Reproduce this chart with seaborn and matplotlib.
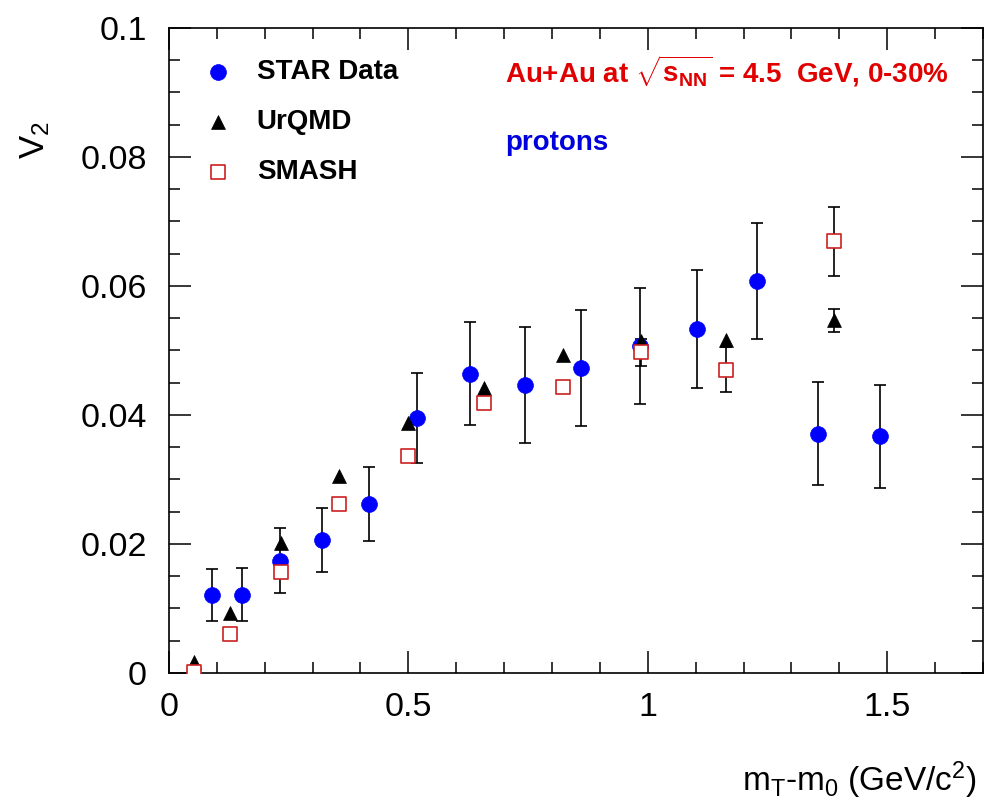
import numpy as np
import pandas as pd
import matplotlib
matplotlib.use("Agg")
import matplotlib.pyplot as plt
import seaborn as sns
from matplotlib.ticker import MultipleLocator, FixedLocator

# ---------------- data ----------------
star_x = [0.090, 0.153, 0.231, 0.319, 0.417, 0.519, 0.629, 0.744, 0.860, 0.983, 1.103, 1.229, 1.356, 1.485]
star_y = [0.0121, 0.0121, 0.0174, 0.0206, 0.0262, 0.0395, 0.0464, 0.0446, 0.0473, 0.0507, 0.0533, 0.0608, 0.0371, 0.0367]
star_err = [0.0040, 0.0041, 0.0050, 0.0049, 0.0057, 0.0070, 0.0080, 0.0090, 0.0090, 0.0090, 0.0091, 0.0090, 0.0080, 0.0080]

model_x = [0.053, 0.127, 0.233, 0.356, 0.500, 0.657, 0.823, 0.985, 1.163, 1.389]
urqmd_y = [0.0017, 0.0093, 0.0201, 0.0305, 0.0387, 0.0442, 0.0493, 0.0514, 0.0517, 0.0547]
urqmd_err = [0, 0, 0, 0, 0, 0, 0, 0, 0, 0.0018]
smash_y = [0.0001, 0.0060, 0.0157, 0.0262, 0.0336, 0.0419, 0.0443, 0.0497, 0.0470, 0.0669]
smash_err = [0, 0, 0, 0, 0, 0, 0, 0.0021, 0.0035, 0.0053]

x_ticks = [0, 0.5, 1, 1.5]
x_tick_labels = ["0", "0.5", "1", "1.5"]
y_ticks = [0, 0.02, 0.04, 0.06, 0.08, 0.1]
y_tick_labels = ["0", "0.02", "0.04", "0.06", "0.08", "0.1"]

series_labels = ["STAR Data", "UrQMD", "SMASH"]

# ---------------- style ----------------
sns.set_theme(style="ticks")
plt.rcParams["font.family"] = ["Liberation Sans", "DejaVu Sans"]
plt.rcParams["mathtext.fontset"] = "custom"
plt.rcParams["mathtext.rm"] = "Liberation Sans"
plt.rcParams["mathtext.it"] = "Liberation Sans:italic"
plt.rcParams["mathtext.bf"] = "Liberation Sans:bold"
plt.rcParams["mathtext.default"] = "regular"
plt.rcParams["text.color"] = "black"
plt.rcParams["axes.labelcolor"] = "black"
plt.rcParams["xtick.color"] = "black"
plt.rcParams["ytick.color"] = "black"
plt.rcParams["legend.labelcolor"] = "black"

fig = plt.figure(figsize=(9.84, 8.11), dpi=100)
ax = fig.add_axes([0.1717, 0.1702, 0.8272, 0.7953])

star = pd.DataFrame({"x": star_x, "y": star_y, "err": star_err})
urq = pd.DataFrame({"x": model_x, "y": urqmd_y, "err": urqmd_err})
sma = pd.DataFrame({"x": model_x, "y": smash_y, "err": smash_err})

# error bars (drawn only where non-zero)
for df in (star, urq, sma):
    m = df["err"] > 0
    ax.errorbar(df.loc[m, "x"], df.loc[m, "y"], yerr=df.loc[m, "err"], fmt="none",
                ecolor="black", elinewidth=1.2, capsize=4, capthick=1.2, zorder=2)

sns.scatterplot(data=star, x="x", y="y", marker="o", s=130, color="#0000ff",
                edgecolor="#0000ff", linewidth=0.5, label=series_labels[0], ax=ax, zorder=3)
sns.scatterplot(data=urq, x="x", y="y", marker="^", s=100, color="black",
                edgecolor="black", linewidth=0.5, label=series_labels[1], ax=ax, zorder=4)
sns.scatterplot(data=sma, x="x", y="y", marker="s", s=92, color="white",
                edgecolor="#cc2020", linewidth=1.2, label=series_labels[2], ax=ax, zorder=5)

ax.set_xlim(0, 1.7)
ax.set_ylim(0, 0.1)
ax.xaxis.set_major_locator(FixedLocator(x_ticks))
ax.set_xticklabels(x_tick_labels)
ax.yaxis.set_major_locator(FixedLocator(y_ticks))
ax.set_yticklabels(y_tick_labels)
ax.xaxis.set_minor_locator(MultipleLocator(0.1))
ax.yaxis.set_minor_locator(MultipleLocator(0.005))

ax.tick_params(which="both", direction="in", top=True, right=True, colors="black",
               width=1.1, labelsize=24.5)
ax.tick_params(which="major", length=15.8)
ax.tick_params(which="minor", length=7.9)
ax.tick_params(axis="x", which="major", pad=14)
ax.tick_params(axis="y", which="major", pad=16)
for sp in ax.spines.values():
    sp.set_linewidth(1.2)
    sp.set_color("black")

ax.set_xlabel(r"m$_T$-m$_0$ (GeV/c$^2$)", fontsize=24, color="black")
ax.xaxis.label.set_ha("right")
ax.xaxis.label.set_va("center")
ax.xaxis.set_label_coords(0.9926, -0.166)
ax.set_ylabel(r"V$_2$", fontsize=25, color="black")
ax.yaxis.label.set_va("center")
ax.yaxis.label.set_ha("center")
ax.yaxis.set_label_coords(-0.164, 0.826)

ax.text(0.4128, 0.9147, r"Au+Au at $\sqrt{\mathbf{s}_{\mathbf{NN}}}$ = 4.5  GeV, 0-30%",
        transform=ax.transAxes, color="#e00000", fontsize=20, fontweight="bold",
        ha="left", va="baseline")
ax.text(0.4128, 0.811, "protons", transform=ax.transAxes, color="#0000dd",
        fontsize=20, fontweight="bold", ha="left", va="baseline")

leg = ax.legend(loc="upper left", bbox_to_anchor=(0.043, 0.952), frameon=False,
                prop={"weight": "bold", "size": 20}, handlelength=1.0, handletextpad=0.9,
                labelspacing=0.87, borderpad=0, borderaxespad=0)
for t in leg.get_texts():
    t.set_color("black")

fig.savefig("out.png", dpi=100)
